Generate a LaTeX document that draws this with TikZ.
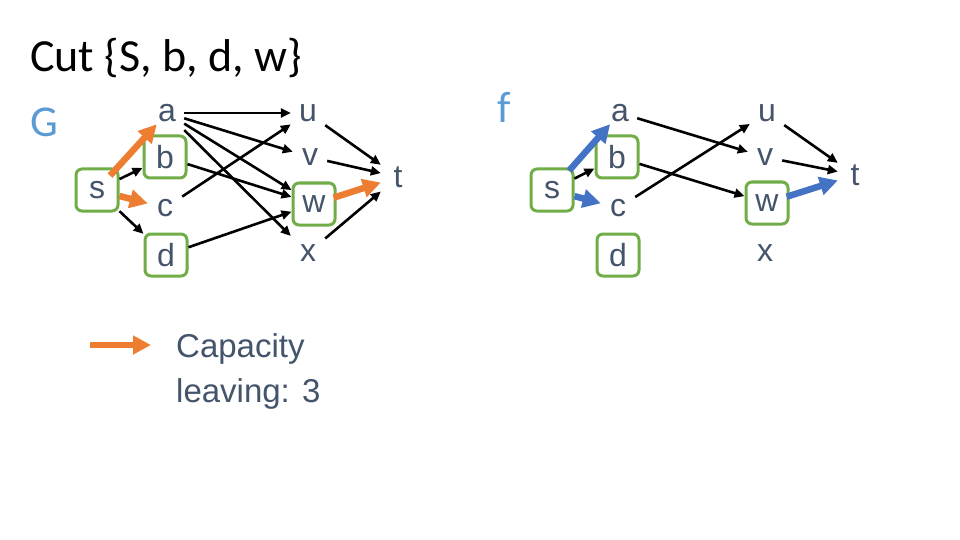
\documentclass[tikz,border=0pt]{standalone}
\usepackage{fontspec}
\setmainfont{Liberation Sans}
\newfontfamily\calibri{Carlito}
\usetikzlibrary{arrows.meta}

\definecolor{nodetext}{HTML}{44546A}
\definecolor{cutgreen}{HTML}{70AD47}
\definecolor{cutorange}{HTML}{ED7D31}
\definecolor{flowblue}{HTML}{4472C4}
\definecolor{labelblue}{HTML}{5B9BD5}

\begin{document}
\begin{tikzpicture}[x=1pt, y=-1pt,
    vert/.style={rectangle, minimum size=34pt, inner sep=0pt, text=nodetext,
      font=\fontsize{32}{36}\selectfont},
    cutvert/.style={vert, draw=cutgreen, line width=3pt, rounded corners=6pt,
      minimum size=42pt},
    arr/.style={-{Triangle[length=10pt,width=9pt]}, line width=2.6pt, black},
    cutarr/.style={-{Triangle[length=18pt,width=18pt]}, line width=6.5pt, cutorange},
    flowarr/.style={-{Triangle[length=18pt,width=18pt]}, line width=6.5pt, flowblue}
  ]
    \useasboundingbox[fill=white] (0,0) rectangle (960,540);

    % title and graph labels
    \node[anchor=base west, inner sep=0pt, font=\calibri\fontsize{46}{52}\selectfont]
      (title) at (30,72) {Cut \{S, b, d, w\}};
    \node[anchor=base west, inner sep=0pt, text=labelblue,
      font=\calibri\fontsize{44}{50}\selectfont] (glabel) at (30,137) {G};
    \node[anchor=base west, inner sep=0pt, text=labelblue,
      font=\calibri\fontsize{44}{50}\selectfont] (flabel) at (497,123) {f};

    % graph G with the cut
    \node[cutvert] (gs) at (97,190) {s};
    \node[vert] (ga) at (167,113) {a};
    \node[cutvert] (gb) at (165,157) {b};
    \node[vert] (gc) at (165,208) {c};
    \node[cutvert] (gd) at (166,255) {d};
    \node[vert] (gu) at (308,113) {u};
    \node[vert] (gv) at (310,157) {v};
    \node[cutvert] (gw) at (314,204) {w};
    \node[vert] (gx) at (308,253) {x};
    \node[vert] (gt) at (398,177) {t};

    \draw[arr] (ga) -- (gu);
    \draw[arr] (ga) -- (gv);
    \draw[arr] (ga) -- (gw);
    \draw[arr] (ga) -- (gx);
    \draw[arr] (gb) -- (gw);
    \draw[arr] (gc) -- (gu);
    \draw[arr] (gd) -- (gw);
    \draw[arr] (gs) -- (gb);
    \draw[arr] (gs) -- (gd);
    \draw[arr] (gu) -- (gt);
    \draw[arr] (gv) -- (gt);
    \draw[arr] (gx) -- (gt);
    \draw[cutarr, shorten <=-11pt, shorten >=-8pt] (gs) -- (ga);
    \draw[cutarr] (gs) -- (gc);
    \draw[cutarr, shorten <=-3pt] (gw) -- (gt);

    % flow f
    \node[cutvert] (fs) at (552,190) {s};
    \node[vert] (fa) at (620,113) {a};
    \node[cutvert] (fb) at (617,157) {b};
    \node[vert] (fc) at (618,208) {c};
    \node[cutvert] (fd) at (618,255) {d};
    \node[vert] (fu) at (767,113) {u};
    \node[vert] (fv) at (765,157) {v};
    \node[cutvert] (fw) at (767,203) {w};
    \node[vert] (fx) at (765,253) {x};
    \node[vert] (ft) at (855,175) {t};

    \draw[arr] (fa) -- (fv);
    \draw[arr] (fb) -- (fw);
    \draw[arr] (fc) -- (fu);
    \draw[arr] (fs) -- (fb);
    \draw[arr] (fu) -- (ft);
    \draw[arr] (fv) -- (ft);
    \draw[flowarr, shorten <=-4pt, shorten >=-8pt] (fs) -- (fa);
    \draw[flowarr] (fs) -- (fc);
    \draw[flowarr, shorten <=-3pt] (fw) -- (ft);

    % legend
    \coordinate (legfrom) at (90,345);
    \coordinate (legto) at (151,345);
    \draw[cutarr] (legfrom) -- (legto);
    \node[anchor=west, align=left, inner sep=0pt, text=nodetext,
      font=\fontsize{33}{45}\selectfont] (legtext) at (176,371)
      {Capacity\\leaving: 3};
\end{tikzpicture}
\end{document}
